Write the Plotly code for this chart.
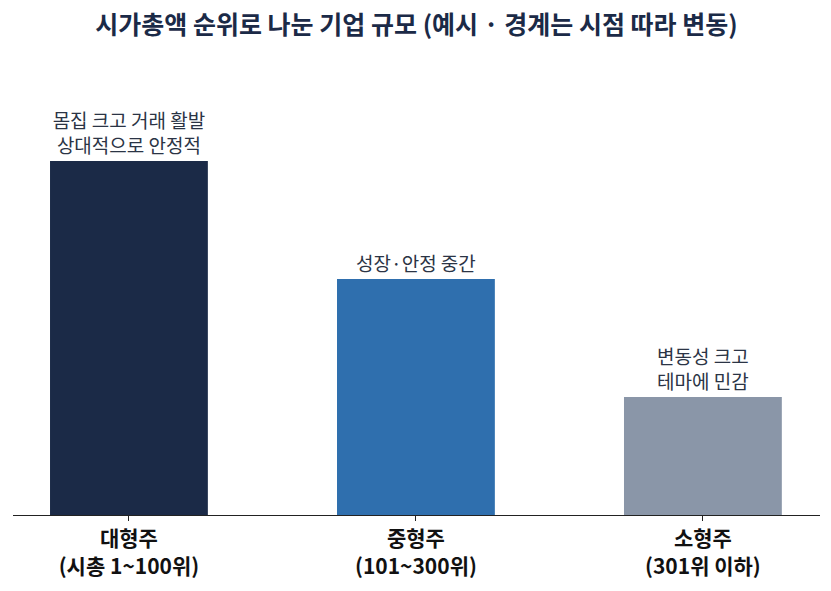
import plotly.graph_objects as go

# 시가총액 순위별 기업 규모 (예시 값)
categories = ['대형주<br>(시총 1~100위)', '중형주<br>(101~300위)', '소형주<br>(301위 이하)']
values = [3, 2, 1]
notes = ['몸집 크고 거래 활발<br>상대적으로 안정적', '성장·안정 중간', '변동성 크고<br>테마에 민감']
colors = ['#1b2a47', '#2f6fae', '#8a96a8']

fig = go.Figure()

fig.add_trace(go.Bar(x=categories, y=values, text=notes,
		textposition='outside', constraintext='none', cliponaxis=False,
		marker=dict(color=colors, line=dict(width=0)),
		outsidetextfont=dict(size=19, color='#2b3445'),
		width=0.55, hoverinfo='skip'))

# 페이지 body 여백(8px)만큼 보정
fig.update_layout(
	title=dict(text='<b>시가총액 순위로 나눈 기업 규모 (예시 · 경계는 시점 따라 변동)</b>',
		x=0.5, xanchor='center', xref='paper', y=0.97, yanchor='middle',
		font=dict(size=25, color='#1b2a47')),
	font=dict(family='Noto Sans CJK KR', color='#1b2a47'),
	width=831, height=591,
	margin=dict(l=5, r=19, t=52, b=84, autoexpand=False),
	plot_bgcolor='white', paper_bgcolor='white',
	showlegend=False,
	bargap=0.45,
)

fig.update_xaxes(range=[-0.404, 2.408], showline=True, linecolor='#222', linewidth=1.2,
	ticks='outside', ticklen=5, tickcolor='#222', automargin=False,
	tickfont=dict(size=21, color='#111'), showgrid=False)
fig.update_xaxes(tickvals=[0, 1, 2], ticktext=['<b>' + c + '</b>' for c in categories],
	type='category')
fig.update_yaxes(range=[0, 3.856], visible=False)

fig.write_html("out.html")
